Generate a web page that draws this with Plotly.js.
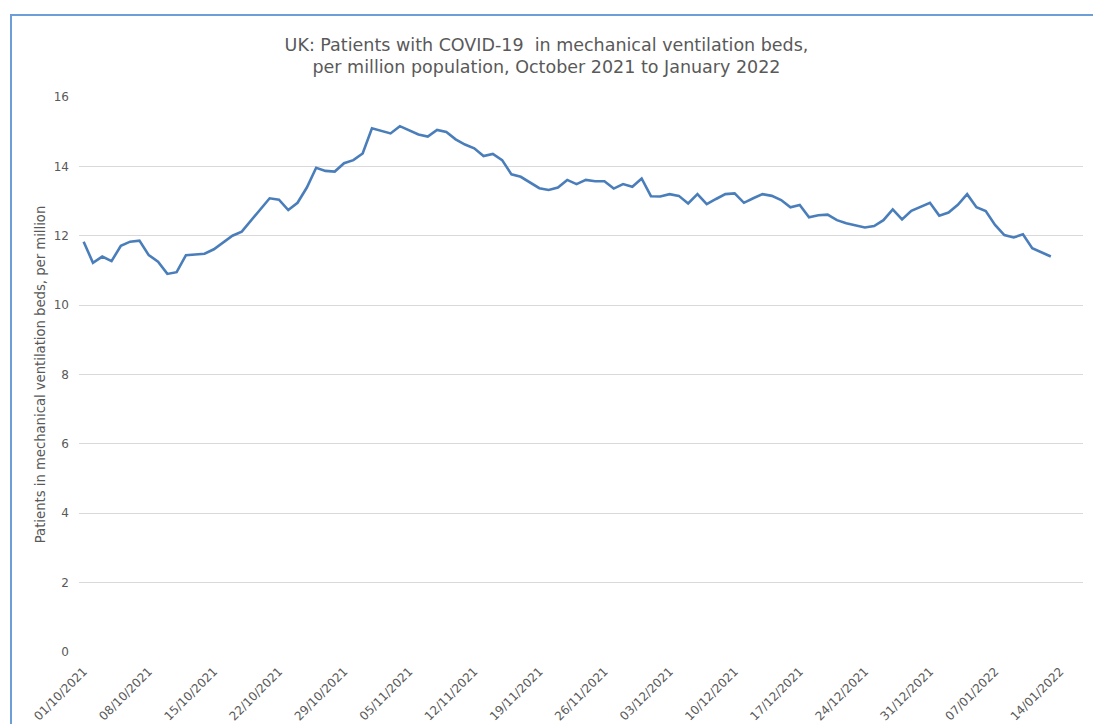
<!DOCTYPE html>
<html>
<head>
<meta charset="utf-8">
<script src="https://cdn.plot.ly/plotly-3.0.1.min.js"></script>
<style>
  html, body { margin: 0; padding: 0; background: #ffffff; }
  #wrap { position: relative; width: 1093px; height: 724px; overflow: hidden; }
  #chart { width: 1093px; height: 724px; }
  #frame { position: absolute; left: 10px; top: 14px; right: -10px; bottom: -10px;
           border-left: 2px solid #6d9fd6; border-top: 2px solid #6d9fd6; pointer-events: none; }
</style>
</head>
<body>
<div id="wrap">
  <div id="chart"></div>
  <div id="frame"></div>
</div>
<script>
// Dates (daily), 01/10/2021 to 13/01/2022
const dates = [
  "2021-10-01","2021-10-02","2021-10-03","2021-10-04","2021-10-05","2021-10-06","2021-10-07",
  "2021-10-08","2021-10-09","2021-10-10","2021-10-11","2021-10-12","2021-10-13","2021-10-14",
  "2021-10-15","2021-10-16","2021-10-17","2021-10-18","2021-10-19","2021-10-20","2021-10-21",
  "2021-10-22","2021-10-23","2021-10-24","2021-10-25","2021-10-26","2021-10-27","2021-10-28",
  "2021-10-29","2021-10-30","2021-10-31","2021-11-01","2021-11-02","2021-11-03","2021-11-04",
  "2021-11-05","2021-11-06","2021-11-07","2021-11-08","2021-11-09","2021-11-10","2021-11-11",
  "2021-11-12","2021-11-13","2021-11-14","2021-11-15","2021-11-16","2021-11-17","2021-11-18",
  "2021-11-19","2021-11-20","2021-11-21","2021-11-22","2021-11-23","2021-11-24","2021-11-25",
  "2021-11-26","2021-11-27","2021-11-28","2021-11-29","2021-11-30","2021-12-01","2021-12-02",
  "2021-12-03","2021-12-04","2021-12-05","2021-12-06","2021-12-07","2021-12-08","2021-12-09",
  "2021-12-10","2021-12-11","2021-12-12","2021-12-13","2021-12-14","2021-12-15","2021-12-16",
  "2021-12-17","2021-12-18","2021-12-19","2021-12-20","2021-12-21","2021-12-22","2021-12-23",
  "2021-12-24","2021-12-25","2021-12-26","2021-12-27","2021-12-28","2021-12-29","2021-12-30",
  "2021-12-31","2022-01-01","2022-01-02","2022-01-03","2022-01-04","2022-01-05","2022-01-06",
  "2022-01-07","2022-01-08","2022-01-09","2022-01-10","2022-01-11","2022-01-12","2022-01-13"
];

// Patients in mechanical ventilation beds, per million
const ventPerMillion = [
  11.83, 11.22, 11.40, 11.27, 11.71, 11.83, 11.86,
  11.44, 11.25, 10.90, 10.95, 11.44, 11.46, 11.48,
  11.61, 11.80, 12.00, 12.12, 12.45, 12.76, 13.08,
  13.04, 12.74, 12.95, 13.39, 13.96, 13.87, 13.85,
  14.09, 14.18, 14.37, 15.10, 15.03, 14.95, 15.16,
  15.05, 14.92, 14.86, 15.05, 14.99, 14.78, 14.63,
  14.52, 14.30, 14.36, 14.18, 13.77, 13.70, 13.53,
  13.37, 13.32, 13.39, 13.61, 13.49, 13.61, 13.57,
  13.57, 13.36, 13.49, 13.41, 13.65, 13.14, 13.13,
  13.20, 13.15, 12.93, 13.20, 12.91, 13.06, 13.20,
  13.22, 12.95, 13.08, 13.20, 13.15, 13.03, 12.82,
  12.89, 12.53, 12.59, 12.61, 12.45, 12.36, 12.30,
  12.24, 12.28, 12.45, 12.76, 12.47, 12.72, 12.84,
  12.95, 12.58, 12.67, 12.89, 13.20, 12.82, 12.71,
  12.31, 12.02, 11.95, 12.04, 11.64, 11.51, 11.40
];

// Tick labels on the date axis (weekly)
const tickDates = [
  "2021-10-01","2021-10-08","2021-10-15","2021-10-22","2021-10-29","2021-11-05",
  "2021-11-12","2021-11-19","2021-11-26","2021-12-03","2021-12-10","2021-12-17",
  "2021-12-24","2021-12-31","2022-01-07","2022-01-14"
];
const tickLabels = [
  "01/10/2021","08/10/2021","15/10/2021","22/10/2021","29/10/2021","05/11/2021",
  "12/11/2021","19/11/2021","26/11/2021","03/12/2021","10/12/2021","17/12/2021",
  "24/12/2021","31/12/2021","07/01/2022","14/01/2022"
];
const yTicks = [0, 2, 4, 6, 8, 10, 12, 14, 16];

const FONT = "DejaVu Sans, Verdana, sans-serif";
const GREY = "#595959";

const trace = {
  x: dates,
  y: ventPerMillion,
  type: "scatter",
  mode: "lines",
  line: { color: "#4a7ebb", width: 2.6 },
  hoverinfo: "x+y"
};

const layout = {
  width: 1093,
  height: 724,
  paper_bgcolor: "#ffffff",
  plot_bgcolor: "#ffffff",
  margin: { l: 79, r: 10, t: 97, b: 72 },
  showlegend: false,
  font: { family: FONT, color: GREY, size: 12 },
  title: {
    text: "UK: Patients with COVID-19  in mechanical ventilation beds,<br>per million population, October 2021 to January 2022",
    font: { family: FONT, size: 17.5, color: GREY },
    x: 0.5, xref: "container", xanchor: "center",
    y: 0.930, yref: "container", yanchor: "top"
  },
  xaxis: {
    type: "date",
    range: ["2021-09-30 12:00", "2022-01-16 11:00"],
    tickmode: "array",
    tickvals: tickDates,
    ticktext: tickLabels,
    tickangle: -45,
    tickfont: { family: FONT, size: 12, color: GREY },
    ticklabelstandoff: 9,
    showgrid: false,
    zeroline: false,
    showline: false,
    ticks: "",
    fixedrange: true
  },
  yaxis: {
    range: [0, 16],
    tickmode: "array",
    tickvals: yTicks,
    ticktext: yTicks.map(String),
    tickfont: { family: FONT, size: 12, color: GREY },
    showgrid: true,
    gridcolor: "#d9d9d9",
    gridwidth: 1,
    zeroline: false,
    showline: false,
    ticks: "",
    ticklabelstandoff: 9,
    title: {
      text: "Patients in mechanical ventilation beds, per million",
      font: { family: FONT, size: 13.2, color: GREY },
      standoff: 5
    },
    fixedrange: true
  }
};

Plotly.newPlot("chart", [trace], layout, { displayModeBar: false });
</script>
</body>
</html>
